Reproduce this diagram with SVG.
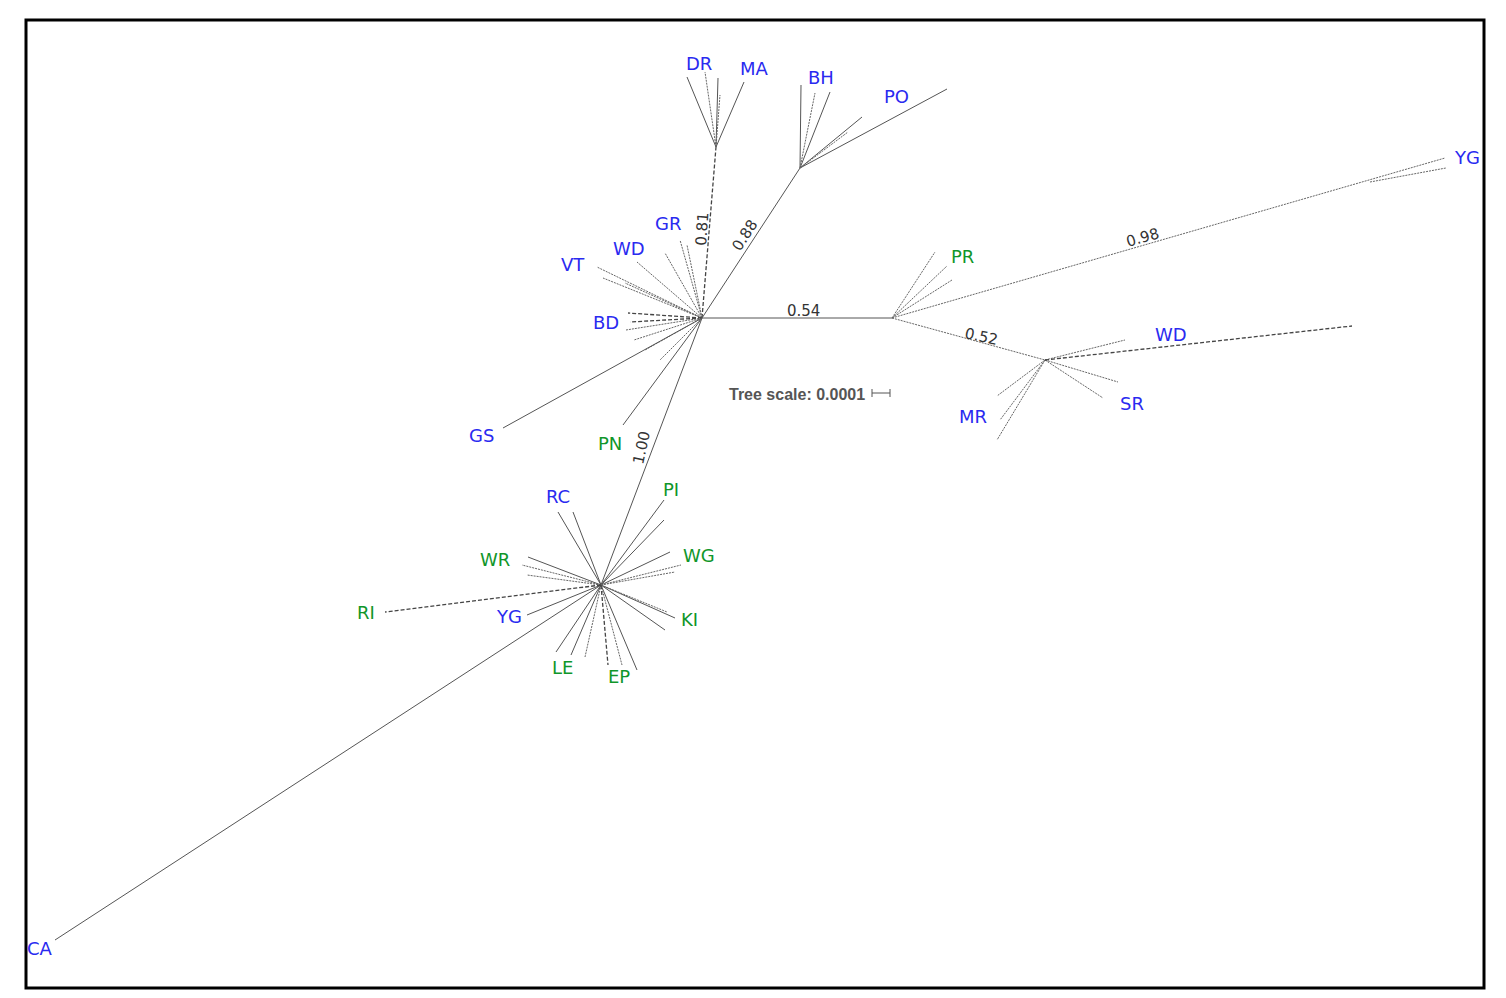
<svg xmlns="http://www.w3.org/2000/svg" width="1506" height="998" viewBox="0 0 1506 998">
<style>
.l{stroke:#555;stroke-width:1;fill:none}
.d{stroke:#444;stroke-width:1.3;stroke-dasharray:4 2;fill:none}
.o{stroke:#666;stroke-width:1;stroke-dasharray:2 1;fill:none}
.b{fill:#2a2af0;font-family:"DejaVu Sans",sans-serif;font-size:18px}
.g{fill:#10962a;font-family:"DejaVu Sans",sans-serif;font-size:18px}
.n{fill:#333;font-family:"DejaVu Sans",sans-serif;font-size:15px}
</style>
<rect x="0" y="0" width="1506" height="998" fill="#fff"/>
<rect x="26" y="20" width="1458" height="968" fill="none" stroke="#000" stroke-width="3"/>
<g id="connectors">
<path class="l" d="M702 318H892M702 318L800 168M702 318L601 585M601 585L55 940"/>
<path class="d" d="M702 318L716 147"/>
<path class="o" d="M892 318L1045 360M892 318L1445 158M1370 182L1446 168"/>
<path class="o" d="M892 318L935 252M892 318L947 266M892 318L952 280"/>
<path class="o" d="M1045 360L1125 340M1045 360L1118 382M1045 360L1103 398M1045 360L997 396M1045 360L1000 420M1045 360L997 440"/>
<path class="d" d="M1045 360L1352 326"/>
<path class="l" d="M800 168L801 85M800 168L830 92M800 168L862 117M800 168L947 89"/>
<path class="o" d="M800 168L815 93M800 168L848 132"/>
<path class="l" d="M716 147L687 77M716 147L744 82M716 147L718 78"/>
<path class="o" d="M716 147L705 72M716 147L720 95"/>
<path class="o" d="M702 318L597 267M702 318L603 278M702 318L625 283M702 318L637 262M702 318L665 253M702 318L687 245M702 318L680 240M702 318L626 330M702 318L634 340M702 318L645 350M702 318L660 360"/>
<path class="d" d="M702 318L628 313M702 318L630 322"/>
<path class="l" d="M702 318L503 428M702 318L623 425"/>
<path class="l" d="M601 585L558 512M601 585L573 512M601 585L664 500M601 585L664 520M601 585L670 552M601 585L528 557M601 585L527 615M601 585L675 618M601 585L556 652M601 585L571 655M601 585L637 670M601 585L665 630"/>
<path class="o" d="M601 585L681 565M601 585L675 572M601 585L522 565M601 585L527 575M601 585L667 612M601 585L585 657M601 585L622 665"/>
<path class="d" d="M601 585L385 612M601 585L608 665"/>
<path class="l" d="M872 393H890M872 389V397M890 389V397"/>
</g>
<g id="labels">
<text class="b" x="686" y="70">DR</text><text class="b" x="740" y="75">MA</text>
<text class="b" x="808" y="84">BH</text><text class="b" x="884" y="103">PO</text>
<text class="b" x="655" y="230">GR</text><text class="b" x="613" y="255">WD</text>
<text class="b" x="561" y="271">VT</text><text class="b" x="593" y="329">BD</text>
<text class="b" x="469" y="442">GS</text><text class="g" x="598" y="450">PN</text>
<text class="g" x="951" y="263">PR</text><text class="b" x="1455" y="164">YG</text>
<text class="b" x="1155" y="341">WD</text><text class="b" x="1120" y="410">SR</text>
<text class="b" x="959" y="423">MR</text>
<text class="b" x="546" y="503">RC</text><text class="g" x="663" y="496">PI</text>
<text class="g" x="683" y="562">WG</text><text class="g" x="480" y="566">WR</text>
<text class="g" x="357" y="619">RI</text><text class="b" x="497" y="623">YG</text>
<text class="g" x="681" y="626">KI</text><text class="g" x="552" y="674">LE</text>
<text class="g" x="608" y="683">EP</text><text class="b" x="27" y="955">CA</text>
<text class="n" x="0" y="0" transform="translate(706,246) rotate(-86)">0.81</text>
<text class="n" x="0" y="0" transform="translate(740,252) rotate(-57)">0.88</text>
<text class="n" x="787" y="316">0.54</text>
<text class="n" x="0" y="0" transform="translate(1128,247) rotate(-16)">0.98</text>
<text class="n" x="0" y="0" transform="translate(964,338) rotate(12)">0.52</text>
<text class="n" x="0" y="0" transform="translate(643,465) rotate(-78)">1.00</text>
<text x="729" y="400" font-family="'Liberation Sans',sans-serif" font-size="16" font-weight="bold" fill="#555">Tree scale: 0.0001</text>
</g>
</svg>
